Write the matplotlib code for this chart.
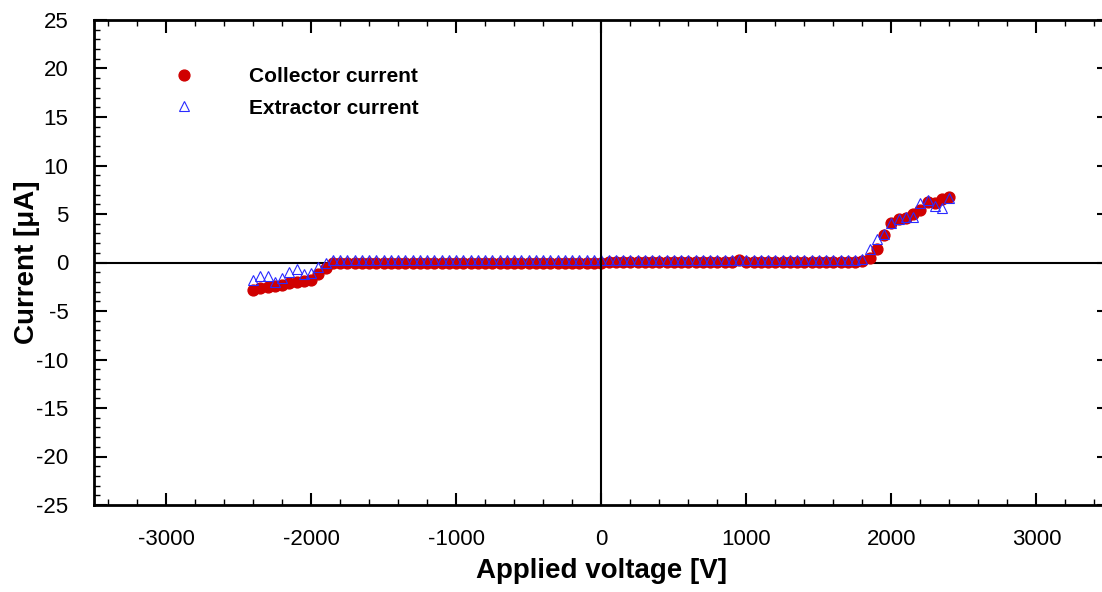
import matplotlib
matplotlib.use("Agg")
import matplotlib.pyplot as plt
from matplotlib.ticker import MultipleLocator

plt.rcParams['font.family'] = ['Liberation Sans', 'DejaVu Sans']
plt.rcParams['axes.unicode_minus'] = False

# sweep voltages [V]
voltage = [
    -2400, -2350, -2300, -2250, -2200, -2150, -2100, -2050, -2000, -1950, -1900, -1850, -1800,
    -1750, -1700, -1650, -1600, -1550, -1500, -1450, -1400, -1350, -1300, -1250, -1200,
    -1150, -1100, -1050, -1000, -950, -900, -850, -800, -750, -700, -650, -600, -550,
    -500, -450, -400, -350, -300, -250, -200, -150, -100, -50,
    0,
    50, 100, 150, 200, 250, 300, 350, 400, 450, 500, 550, 600, 650, 700, 750, 800,
    850, 900, 950, 1000, 1050, 1100, 1150, 1200, 1250, 1300, 1350, 1400, 1450, 1500,
    1550, 1600, 1650, 1700, 1750,
    1800, 1850, 1900, 1950, 2000, 2050, 2100, 2150, 2200, 2250, 2300, 2350, 2400,
]

# collector current [uA]
collector = [
    -2.8, -2.6, -2.5, -2.4, -2.3, -2.1, -2.0, -1.9, -1.8, -1.2, -0.6, -0.1, 0.0,
    0.0, 0.0, 0.0, 0.0, 0.0, 0.0, 0.0, 0.0, 0.0, 0.0, 0.0, 0.0,
    0.0, 0.0, 0.0, 0.0, 0.0, 0.0, 0.0, 0.0, 0.0, 0.0, 0.0, 0.0, 0.0,
    0.0, 0.0, 0.0, 0.0, 0.0, 0.0, 0.0, 0.0, 0.0, 0.0,
    0.0,
    0.05, 0.05, 0.05, 0.05, 0.05, 0.05, 0.05, 0.05, 0.05, 0.05, 0.05, 0.05, 0.05, 0.05, 0.05, 0.05,
    0.05, 0.1, 0.3, 0.1, 0.05, 0.05, 0.05, 0.05, 0.05, 0.05, 0.05, 0.05, 0.05, 0.05,
    0.05, 0.05, 0.05, 0.1, 0.1,
    0.2, 0.5, 1.4, 2.8, 4.1, 4.45, 4.6, 5.0, 5.4, 6.2, 6.1, 6.5, 6.8,
]

# extractor current [uA]
extractor = [
    -1.8, -1.4, -1.4, -2.0, -1.6, -1.0, -0.7, -1.2, -1.1, -0.5, 0.0, 0.3, 0.3,
    0.25, 0.25, 0.25, 0.25, 0.25, 0.25, 0.25, 0.25, 0.25, 0.25, 0.25, 0.25,
    0.25, 0.25, 0.25, 0.25, 0.25, 0.25, 0.25, 0.25, 0.25, 0.25, 0.25, 0.25, 0.25,
    0.25, 0.25, 0.25, 0.25, 0.25, 0.25, 0.25, 0.25, 0.25, 0.25,
    0.25,
    0.25, 0.25, 0.25, 0.25, 0.25, 0.25, 0.25, 0.25, 0.25, 0.25, 0.25, 0.25, 0.25, 0.25, 0.25, 0.25,
    0.25, 0.25, 0.3, 0.25, 0.25, 0.25, 0.25, 0.25, 0.25, 0.25, 0.25, 0.25, 0.25, 0.25,
    0.25, 0.25, 0.25, 0.25, 0.3,
    0.35, 1.4, 2.4, 2.9, 4.1, 4.5, 4.65, 4.7, 6.1, 6.4, 5.8, 5.6, 6.65,
]

fig = plt.figure(figsize=(11.02, 5.92), dpi=100)
# right edge of the frame falls just outside the picture, like the original
ax = fig.add_axes([93.5 / 1102, 87 / 592, 1015.5 / 1102, 485 / 592])

ax.axhline(0, color='black', lw=1.5, zorder=1)
ax.axvline(0, color='black', lw=1.5, zorder=4)

ax.plot(voltage, collector, 'o', color='#d00000', ms=7.8, mec='#d00000',
        label='Collector current', zorder=2)
ax.plot(voltage, extractor, '^', mfc='none', mec='#2a2aff', ms=6.8, mew=0.8,
        label='Extractor current', zorder=3)

ax.set_xlim(-3500, 3500)
ax.set_ylim(-25, 25)
ax.xaxis.set_major_locator(MultipleLocator(1000))
ax.xaxis.set_minor_locator(MultipleLocator(200))
ax.yaxis.set_major_locator(MultipleLocator(5))
ax.yaxis.set_minor_locator(MultipleLocator(1))

ax.tick_params(which='both', direction='in', top=True, right=True,
               labelsize=16, pad=17)
ax.tick_params(axis='y', which='both', pad=18)
ax.tick_params(which='major', length=9, width=1.5)
ax.tick_params(which='minor', length=4.5, width=1)
for sp in ax.spines.values():
    sp.set_linewidth(2)

ax.set_xlabel('Applied voltage [V]', fontsize=20, fontweight='bold', labelpad=6)
ax.set_ylabel('Current [μA]', fontsize=20, fontweight='bold')
ax.yaxis.set_label_coords(-54 / 1015.5, 0.5)

ax.legend(loc='upper left', bbox_to_anchor=(173.6 / 1102, 1 - 67 / 592),
          bbox_transform=fig.transFigure, frameon=False, borderpad=0,
          borderaxespad=0, handlelength=1.0, handletextpad=2.6,
          labelspacing=0.6, prop={'weight': 'bold', 'size': 15})

fig.savefig('out.png', dpi=100)
